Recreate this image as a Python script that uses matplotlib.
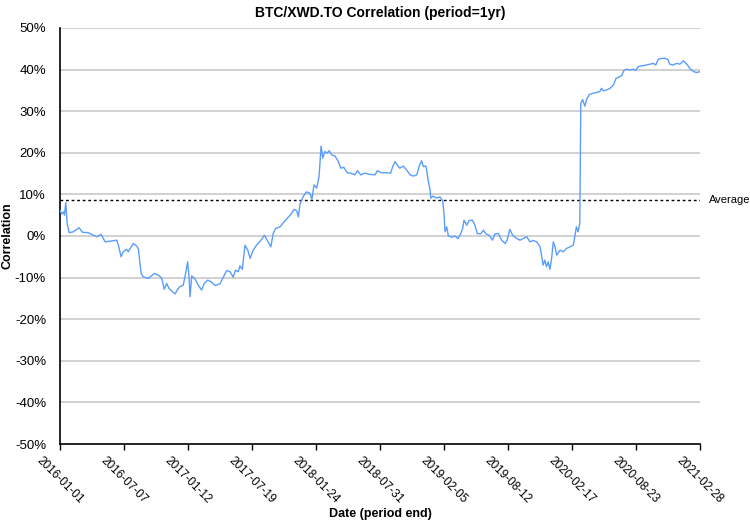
import pandas as pd
import numpy as np
import matplotlib
matplotlib.use("Agg")
import matplotlib.pyplot as plt
from matplotlib.ticker import FuncFormatter

plt.rcParams['font.family'] = ['Liberation Sans', 'DejaVu Sans']
plt.rcParams['axes.unicode_minus'] = False

# data: days since 2016-01-01 and rolling correlation (%)
start_date = "2016-01-01"
days = [0, 5, 10, 13, 17, 21, 27, 39, 56, 66, 83, 98, 108, 121, 133, 152, 167, 172,
        180, 186, 196, 201, 216, 226, 231, 239, 245, 260, 278, 290, 300, 307, 314,
        321, 331, 339, 347, 353, 363, 370, 376, 380, 383, 388, 398, 407, 417, 425,
        435, 445, 457, 471, 481, 491, 501, 510, 517, 525, 530, 537, 545, 553, 560,
        569, 579, 594, 602, 613, 621, 628, 635, 648, 660, 672, 682, 689, 697, 702,
        707, 717, 726, 736, 742, 748, 756, 763, 766, 769, 774, 780, 787, 793, 800,
        810, 820, 827, 836, 846, 856, 869, 876, 886, 898, 913, 928, 935, 947, 962,
        974, 980, 987, 993, 1001, 1011, 1021, 1031, 1041, 1051, 1058, 1065, 1070,
        1078, 1085, 1090, 1092, 1099, 1109, 1119, 1127, 1131, 1134, 1139, 1144,
        1154, 1163, 1173, 1180, 1186, 1190, 1198, 1205, 1215, 1222, 1229, 1239,
        1247, 1255, 1264, 1274, 1281, 1291, 1301, 1311, 1317, 1325, 1333, 1345,
        1355, 1365, 1375, 1384, 1394, 1404, 1414, 1419, 1423, 1428, 1433, 1438,
        1443, 1448, 1453, 1458, 1463, 1473, 1482, 1492, 1502, 1512, 1517, 1521,
        1526, 1531, 1534, 1539, 1543, 1546, 1551, 1559, 1570, 1580, 1590, 1595,
        1600, 1610, 1620, 1630, 1638, 1644, 1654, 1661, 1669, 1679, 1688, 1696,
        1703, 1713, 1727, 1738, 1747, 1755, 1762, 1772, 1784, 1791, 1796, 1806,
        1816, 1826, 1836, 1844, 1850, 1855, 1860, 1867, 1875, 1885]
corr = [6.2, 5.3, 5.8, 5.0, 8.0, 3.0, 0.8, 1.0, 2.0, 0.9, 0.8, 0.2, -0.2, 0.4, -1.4,
        -1.2, -1.0, -2.2, -5.0, -3.8, -3.2, -3.8, -1.8, -2.4, -3.2, -9.0, -9.8,
        -10.2, -9.0, -9.4, -10.2, -12.8, -11.4, -12.6, -13.4, -13.9, -12.8, -12.2,
        -11.8, -9.0, -6.2, -9.8, -14.6, -9.6, -10.4, -11.8, -13.0, -11.4, -10.6,
        -11.0, -11.9, -11.5, -9.9, -8.3, -8.6, -9.9, -8.2, -8.6, -7.2, -8.0, -2.2,
        -3.4, -5.4, -3.4, -2.2, -0.8, 0.2, -1.4, -2.6, 0.6, 1.8, 2.2, 3.4, 4.5, 5.4,
        6.4, 6.1, 4.6, 7.7, 9.6, 10.6, 10.3, 8.8, 12.3, 11.5, 14.3, 17.9, 21.6, 18.7,
        20.3, 19.9, 20.5, 19.5, 19.2, 17.9, 16.3, 16.5, 15.2, 15.1, 14.7, 15.7, 14.7,
        15.1, 14.8, 14.7, 15.7, 15.2, 15.2, 15.1, 16.7, 17.9, 17.1, 16.3, 16.8, 15.9,
        14.7, 14.4, 14.7, 16.8, 18.1, 16.7, 16.8, 13.1, 11.1, 9.1, 9.6, 9.1, 9.4,
        8.5, 5.5, 1.0, 2.2, 0.0, -0.3, 0.0, -0.6, 0.5, 1.8, 3.8, 2.6, 3.7, 3.8, 2.6,
        0.6, 0.5, 1.4, 0.5, 0.2, -1.0, 0.5, 0.6, -1.0, -1.8, -1.0, 1.6, 0.2, -0.6,
        -1.0, -0.6, -0.2, -1.4, -1.1, -1.4, -2.6, -5.0, -7.0, -5.8, -7.4, -6.2, -8.0,
        -5.4, -1.4, -2.6, -4.6, -3.4, -3.8, -3.0, -2.6, -2.2, 0.2, 2.2, 1.0, 3.0,
        31.9, 32.8, 31.9, 31.2, 32.8, 34.0, 34.3, 34.5, 34.7, 35.5, 34.9, 35.1, 35.5,
        36.3, 37.9, 38.1, 38.5, 39.8, 40.1, 39.9, 40.1, 39.8, 40.7, 40.9, 41.1, 41.3,
        41.5, 41.1, 42.5, 42.7, 42.7, 42.3, 41.3, 41.1, 41.5, 41.3, 42.1, 41.5, 40.9,
        40.3, 39.9, 39.5, 39.3, 39.5]
average = 8.7
tick_labels = ["2016-01-01", "2016-07-07", "2017-01-12", "2017-07-19", "2018-01-24",
               "2018-07-31", "2019-02-05", "2019-08-12", "2020-02-17", "2020-08-23",
               "2021-02-28"]

dates = pd.Timestamp(start_date) + pd.to_timedelta(days, unit="D")
ticks = pd.to_datetime(tick_labels)

fig = plt.figure(figsize=(7.5, 5.22), dpi=100)
ax = fig.add_axes([0.08, 0.1494, 0.8533, 0.797])

# grid
for v in range(-40, 51, 10):
    ax.axhline(v, color="#c9c9c9", lw=1.2, zorder=1)

ax.plot(dates, corr, color="#5a9dfc", lw=1.0, zorder=3)
ax.axhline(average, color="black", lw=1.0, ls=(0, (2, 2)), zorder=2)
ax.text(1.014, (average + 50) / 100, "Average", transform=ax.transAxes,
        va="center", ha="left", fontsize=8)

ax.set_xlim(ticks[0], ticks[-1])
ax.set_ylim(-50, 50)
ax.set_yticks(range(-50, 51, 10))
ax.yaxis.set_major_formatter(FuncFormatter(lambda v, p: f"{int(v)}%"))
ax.set_xticks(ticks)
ax.set_xticklabels(tick_labels, rotation=-45, ha="center", va="top")
ax.tick_params(axis="y", length=0, pad=10, labelsize=9.5)
ax.tick_params(axis="x", length=4, width=1, labelsize=8.5, pad=4)

for s in ["top", "right"]:
    ax.spines[s].set_visible(False)
ax.spines["left"].set_linewidth(1.2)
ax.spines["bottom"].set_linewidth(1.2)

ax.set_title("BTC/XWD.TO Correlation (period=1yr)", fontsize=10, fontweight="bold", pad=8)
ax.set_ylabel("Correlation", fontsize=9, fontweight="bold")
ax.yaxis.set_label_coords(-0.072, 0.5)
ax.set_xlabel("Date (period end)", fontsize=9, fontweight="bold")
ax.xaxis.set_label_coords(0.5, -0.155)

fig.savefig("out.png", dpi=100)
